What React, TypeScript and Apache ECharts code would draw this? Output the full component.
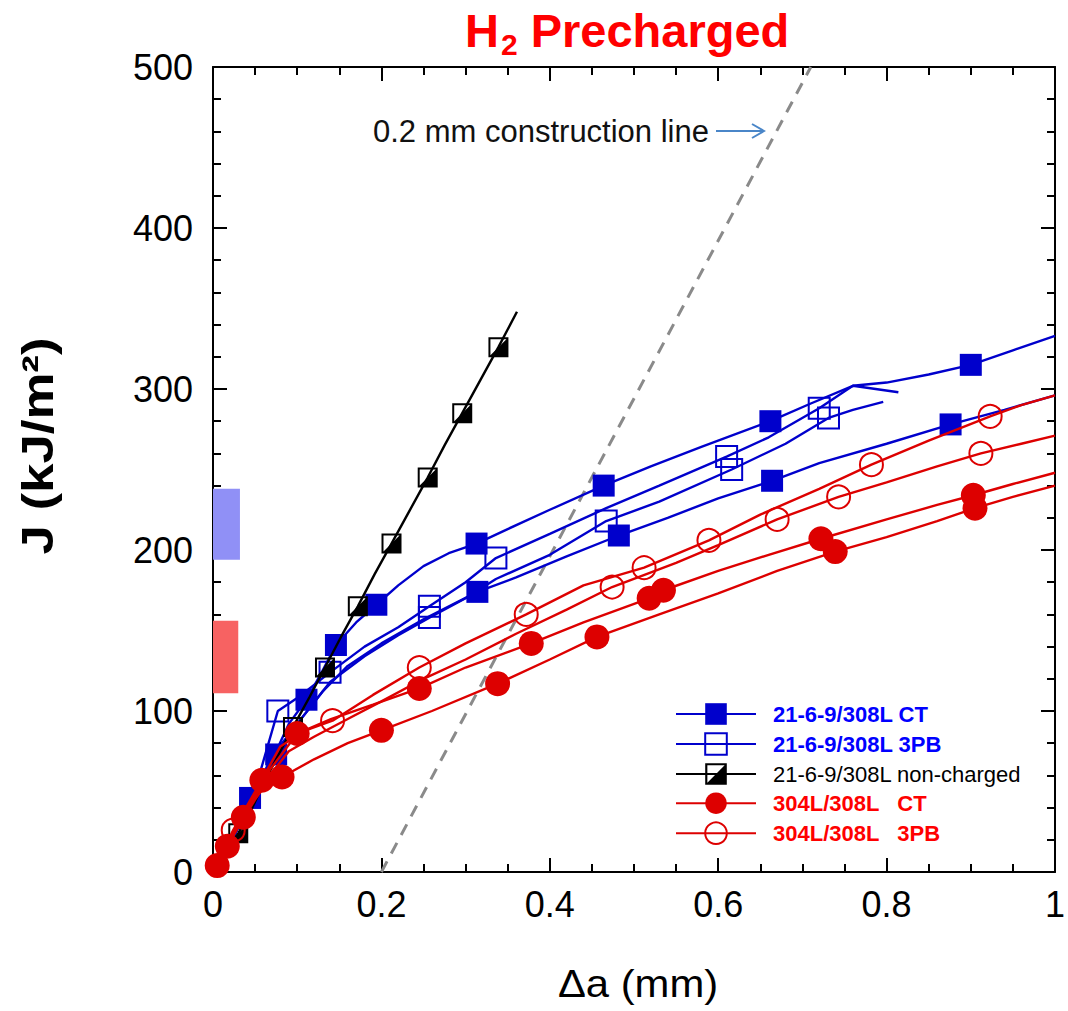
import React, { useEffect, useRef } from 'react';
import * as echarts from 'echarts';

const FONT = '"Liberation Sans", Arial, sans-serif';

const xTickLabels = ['0', '0.2', '0.4', '0.6', '0.8', '1'];
const yTickLabels = ['0', '100', '200', '300', '400', '500'];

const legendNames = [
  '21-6-9/308L CT',
  '21-6-9/308L 3PB',
  '21-6-9/308L non-charged',
  '304L/308L   CT',
  '304L/308L   3PB',
];

// 21-6-9/308L CT (H2 precharged) – two specimens
const blueCT1Line = [[0,0],[0.01,8],[0.02,18],[0.03,30],[0.044,46],[0.06,60],[0.075,75],[0.09,92],[0.111,107],[0.13,125],[0.146,141],[0.17,155],[0.194,166],[0.22,178],[0.25,190],[0.28,198],[0.313,204],[0.35,213],[0.4,225],[0.464,240],[0.52,252],[0.58,264],[0.662,280],[0.71,291],[0.76,302],[0.8,304],[0.85,309],[0.9,315],[0.95,324],[1.0,333]];
const blueCT1Marks = [[0.044,46],[0.111,107],[0.146,141],[0.194,166],[0.313,204],[0.464,240],[0.662,280],[0.9,315]];
const blueCT2Line = [[0,0],[0.015,12],[0.03,28],[0.05,48],[0.075,73],[0.1,92],[0.13,112],[0.16,128],[0.2,142],[0.25,157],[0.314,174],[0.36,183],[0.42,196],[0.482,209],[0.54,220],[0.6,232],[0.664,243],[0.72,254],[0.8,266],[0.876,278],[0.94,287],[1.0,296]];
const blueCT2Marks = [[0.075,73],[0.314,174],[0.482,209],[0.664,243],[0.876,278]];

// 21-6-9/308L 3PB – two specimens
const blue3PB1Line = [[0,0],[0.02,16],[0.04,40],[0.056,62],[0.077,100],[0.1,108],[0.139,124],[0.18,140],[0.22,152],[0.257,165],[0.3,180],[0.336,195],[0.4,210],[0.467,226],[0.53,240],[0.61,258],[0.66,270],[0.72,288],[0.76,302],[0.814,298]];
const blue3PB1Marks = [[0.077,100],[0.139,124],[0.257,165],[0.336,195],[0.61,258],[0.72,288]];
const blue3PB2Line = [[0,0],[0.025,22],[0.05,50],[0.07,72],[0.1,92],[0.139,118],[0.18,134],[0.22,147],[0.257,158],[0.3,170],[0.336,182],[0.4,197],[0.467,218],[0.53,230],[0.616,250],[0.68,266],[0.731,282],[0.76,287],[0.796,292]];
const blue3PB2Marks = [[0.257,158],[0.467,218],[0.616,250],[0.731,282]];

// 21-6-9/308L non-charged
const blackNCLine = [[0,0],[0.005,4],[0.012,10],[0.02,16],[0.03,24],[0.045,38],[0.06,55],[0.075,70],[0.095,90],[0.115,109],[0.133,127],[0.152,146],[0.172,165],[0.192,185],[0.212,204],[0.233,224],[0.255,245],[0.275,265],[0.296,285],[0.318,306],[0.339,326],[0.361,348]];
const blackNCMarks = [[0.03,24],[0.095,90],[0.133,127],[0.172,165],[0.212,204],[0.255,245],[0.296,285],[0.339,326]];

// 304L/308L CT – two specimens
const redCT1Line = [[0,0],[0.005,4],[0.017,16],[0.036,34],[0.058,57],[0.08,72],[0.1,86],[0.14,95],[0.19,104],[0.245,114],[0.3,127],[0.378,142],[0.44,155],[0.518,170],[0.535,175],[0.6,187],[0.66,197],[0.722,207],[0.8,219],[0.86,228],[0.903,234],[0.95,241],[1.0,248]];
const redCT1Marks = [[0.005,4],[0.036,34],[0.058,57],[0.1,86],[0.245,114],[0.378,142],[0.518,170],[0.535,175],[0.722,207],[0.903,234]];
const redCT2Line = [[0,0],[0.01,8],[0.017,16],[0.03,28],[0.05,45],[0.065,56],[0.082,59],[0.12,70],[0.16,80],[0.2,88],[0.26,100],[0.338,117],[0.4,132],[0.456,146],[0.53,160],[0.6,173],[0.67,187],[0.739,199],[0.8,208],[0.86,218],[0.905,226],[0.95,233],[1.0,240]];
const redCT2Marks = [[0.017,16],[0.082,59],[0.2,88],[0.338,117],[0.456,146],[0.739,199],[0.905,226]];

// 304L/308L 3PB – two specimens
const red3PB1Line = [[0,0],[0.024,26],[0.05,50],[0.08,78],[0.11,88],[0.142,94],[0.19,110],[0.245,127],[0.3,142],[0.372,160],[0.44,178],[0.512,189],[0.589,206],[0.65,222],[0.72,238],[0.782,253],[0.85,268],[0.923,283],[0.96,290],[1.0,296]];
const red3PB1Marks = [[0.024,26],[0.142,94],[0.245,127],[0.372,160],[0.512,189],[0.589,206],[0.782,253],[0.923,283]];
const red3PB2Line = [[0,0],[0.03,30],[0.06,55],[0.09,75],[0.12,84],[0.16,95],[0.2,106],[0.25,120],[0.3,132],[0.36,148],[0.42,163],[0.474,177],[0.55,192],[0.6,203],[0.67,219],[0.743,233],[0.8,242],[0.86,252],[0.912,260],[0.96,266],[1.0,271]];
const red3PB2Marks = [[0.474,177],[0.67,219],[0.743,233],[0.912,260]];

// 0.2 mm construction (offset) line
const constructionLine = [[0.2,0],[0.71,500]];

// shaded bands on the J axis: [x0, J0, x1, J1]
const blueBand = [0, 194, 0.032, 238];
const redBand = [0, 111, 0.03, 156];

const HALF_SQUARE = 'path://M0,0H20V20H0Z M2,2V18H18V2Z M18,2L18,18L2,18Z';

function buildData(line: number[][], marks: number[][]) {
  const pts: any[] = line.map((p) => ({ value: p, symbol: 'none' }));
  marks.forEach((m) => pts.push({ value: m }));
  pts.sort((a, b) => a.value[0] - b.value[0]);
  return pts;
}

function curve(name: string, line: number[][], marks: number[][], color: string, symbol: string, size: number, itemStyle: any, z: number) {
  return {
    type: 'line',
    name,
    data: buildData(line, marks),
    symbol,
    symbolSize: size,
    showSymbol: true,
    showAllSymbol: true,
    lineStyle: { color, width: 2.4 },
    itemStyle,
    z,
    emphasis: { disabled: true },
    silent: true,
    xAxisIndex: 0,
    yAxisIndex: 0,
  };
}

export default function App() {
  const ref = useRef<HTMLDivElement>(null);
  useEffect(() => {
    document.body.style.margin = '0';
    const chart = echarts.init(ref.current!, null, { renderer: 'svg' });
    const blue = '#0000cc';
    const red = '#dd0000';
    const axisCommon = {
      type: 'value',
      axisLine: { show: true, onZero: false, lineStyle: { color: '#000', width: 2 } },
      axisTick: { show: true, inside: true, length: 14, lineStyle: { color: '#000', width: 2 } },
      minorTick: { show: true, length: 8, lineStyle: { color: '#000', width: 2 } },
      splitLine: { show: false },
    };
    const option: any = {
      animation: false,
      backgroundColor: '#fff',
      grid: { left: 213, top: 67, width: 844, height: 805, containLabel: false },
      xAxis: [
        {
          ...axisCommon,
          min: 0, max: 1, interval: 0.2, position: 'bottom',
          minorTick: { ...axisCommon.minorTick, splitNumber: 4 },
          axisLabel: {
            color: '#000', fontSize: 36, fontFamily: FONT, margin: 14,
            formatter: (v: number) => xTickLabels[Math.round(v / 0.2)] ?? '',
          },
        },
        {
          ...axisCommon,
          min: 0, max: 1, interval: 0.2, position: 'top',
          minorTick: { ...axisCommon.minorTick, splitNumber: 4 },
          axisLabel: { show: false },
        },
      ],
      yAxis: [
        {
          ...axisCommon,
          min: 0, max: 500, interval: 100, position: 'left',
          minorTick: { ...axisCommon.minorTick, splitNumber: 5 },
          axisLabel: {
            color: '#000', fontSize: 36, fontFamily: FONT, margin: 20,
            formatter: (v: number) => yTickLabels[Math.round(v / 100)] ?? '',
          },
        },
        {
          ...axisCommon,
          min: 0, max: 500, interval: 100, position: 'right',
          minorTick: { ...axisCommon.minorTick, splitNumber: 5 },
          axisLabel: { show: false },
        },
      ],
      legend: {
        orient: 'vertical',
        left: 670,
        top: 698,
        itemWidth: 80,
        itemHeight: 27,
        itemGap: 7.2,
        selectedMode: false,
        textStyle: { fontSize: 22, fontFamily: FONT, padding: [0, 0, 0, 12] },
        data: [
          { name: legendNames[0], textStyle: { color: '#0000ff', fontWeight: 'bold' } },
          { name: legendNames[1], textStyle: { color: '#0000ff', fontWeight: 'bold' } },
          { name: legendNames[2], textStyle: { color: '#000', fontWeight: 'normal' } },
          { name: legendNames[3], textStyle: { color: '#ff0000', fontWeight: 'bold' } },
          { name: legendNames[4], textStyle: { color: '#ff0000', fontWeight: 'bold' } },
        ],
      },
      series: [
        {
          type: 'line',
          name: 'construction',
          data: constructionLine,
          symbol: 'none',
          lineStyle: { color: '#8a8a8a', width: 3, type: [12, 9] },
          z: 1,
          silent: true,
          markArea: {
            silent: true,
            data: [
              [
                { coord: [blueBand[0], blueBand[1]], itemStyle: { color: '#9090f6', opacity: 1 } },
                { coord: [blueBand[2], blueBand[3]] },
              ],
              [
                { coord: [redBand[0], redBand[1]], itemStyle: { color: '#f76262', opacity: 1 } },
                { coord: [redBand[2], redBand[3]] },
              ],
            ],
          },
        },
        curve(legendNames[0], blueCT1Line, blueCT1Marks, blue, 'rect', 22, { color: blue }, 3),
        curve(legendNames[0], blueCT2Line, blueCT2Marks, blue, 'rect', 22, { color: blue }, 3),
        curve(legendNames[1], blue3PB1Line, blue3PB1Marks, blue, 'rect', 21, { color: 'rgba(0,0,0,0)', borderColor: blue, borderWidth: 2 }, 3),
        curve(legendNames[1], blue3PB2Line, blue3PB2Marks, blue, 'rect', 21, { color: 'rgba(0,0,0,0)', borderColor: blue, borderWidth: 2 }, 3),
        curve(legendNames[2], blackNCLine, blackNCMarks, '#000', HALF_SQUARE, 20, { color: '#000' }, 4),
        curve(legendNames[3], redCT1Line, redCT1Marks, red, 'circle', 25, { color: red }, 5),
        curve(legendNames[3], redCT2Line, redCT2Marks, red, 'circle', 25, { color: red }, 5),
        curve(legendNames[4], red3PB1Line, red3PB1Marks, red, 'circle', 23, { color: 'rgba(0,0,0,0)', borderColor: red, borderWidth: 2 }, 5),
        curve(legendNames[4], red3PB2Line, red3PB2Marks, red, 'circle', 23, { color: 'rgba(0,0,0,0)', borderColor: red, borderWidth: 2 }, 5),
      ],
      graphic: [
        {
          type: 'text',
          x: 465, y: 30,
          style: {
            text: '{h|H}{s|2}{h| Precharged}',
            fill: '#ff0000',
            verticalAlign: 'middle',
            align: 'left',
            rich: {
              h: { fontSize: 47, fontWeight: 'bold', fontFamily: FONT, fill: '#ff0000' },
              s: { fontSize: 30, fontWeight: 'bold', fontFamily: FONT, fill: '#ff0000', padding: [28, 0, 0, 2] },
            },
          },
        },
        {
          type: 'text',
          x: 38, y: 446,
          rotation: Math.PI / 2,
          scaleX: 1.2,
          style: {
            text: 'J (kJ/m²)',
            font: `bold 44px ${FONT}`,
            fill: '#000',
            align: 'center',
            verticalAlign: 'middle',
          },
        },
        {
          type: 'text',
          x: 638, y: 984,
          scaleX: 1.1,
          style: {
            text: 'Δa (mm)',
            font: `38px ${FONT}`,
            fill: '#000',
            align: 'center',
            verticalAlign: 'middle',
          },
        },
        {
          type: 'text',
          x: 373, y: 131,
          style: {
            text: '0.2 mm construction line',
            font: `31px ${FONT}`,
            fill: '#111',
            align: 'left',
            verticalAlign: 'middle',
          },
        },
        {
          type: 'line',
          shape: { x1: 716, y1: 131, x2: 764, y2: 131 },
          style: { stroke: '#4a86c8', lineWidth: 2 },
        },
        {
          type: 'polyline',
          shape: { points: [[752, 124], [764, 131], [752, 138]] },
          style: { stroke: '#4a86c8', lineWidth: 2, fill: 'none' },
        },
      ],
    };
    chart.setOption(option);
    return () => chart.dispose();
  }, []);
  return <div ref={ref} style={{ width: 1068, height: 1011 }} />;
}
